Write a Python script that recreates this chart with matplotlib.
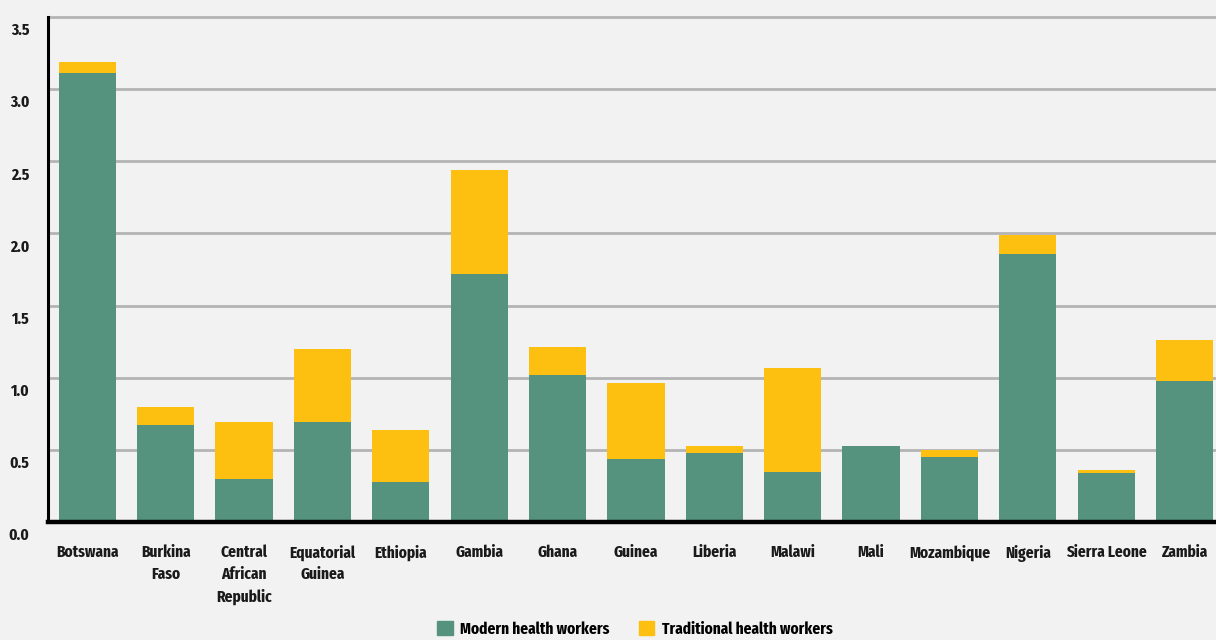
import matplotlib.pyplot as plt
import matplotlib.transforms as mtransforms
from matplotlib.patches import Patch
import numpy as np

countries = ["Botswana", "Burkina\nFaso", "Central\nAfrican\nRepublic", "Equatorial\nGuinea",
             "Ethiopia", "Gambia", "Ghana", "Guinea", "Liberia", "Malawi", "Mali",
             "Mozambique", "Nigeria", "Sierra Leone", "Zambia"]
modern = [3.11, 0.67, 0.30, 0.69, 0.28, 1.72, 1.02, 0.44, 0.48, 0.35, 0.53, 0.45, 1.86, 0.34, 0.98]
traditional = [0.08, 0.13, 0.39, 0.51, 0.36, 0.72, 0.19, 0.52, 0.05, 0.72, 0.0, 0.05, 0.13, 0.02, 0.28]
yticks = [0.0, 0.5, 1.0, 1.5, 2.0, 2.5, 3.0, 3.5]

GREEN = "#56937f"
YELLOW = "#fdc010"
BG = "#f1f2f1"
FONT = dict(family=["Fira Sans Extra Condensed", "Fira Sans Condensed", "DejaVu Sans"],
            stretch="condensed", weight="bold", size=12)

W, H = 1216, 640
fig = plt.figure(figsize=(W / 100, H / 100), dpi=100, facecolor=BG)
# axes box in pixels: left spine x=48, baseline y=522, top grid y=17
ax = fig.add_axes([48 / W, (H - 522) / H, (W - 48) / W, (522 - 17) / H])
ax.set_facecolor(BG)

x = np.arange(len(countries))
ax.bar(x, modern, width=0.73, color=GREEN, zorder=3)
ax.bar(x, traditional, width=0.73, bottom=modern, color=YELLOW, zorder=3)

ax.set_xlim(-0.5, 14.4)
ax.set_ylim(0, 3.5)
ax.set_yticks(yticks)
ax.set_yticklabels([f"{v:.1f}" for v in yticks], color="#1a1a1a", **FONT)
ax.tick_params(axis="y", length=0, pad=13.5)
# labels sit a little below their gridlines
offset = mtransforms.ScaledTranslation(0, -12 / 100, fig.dpi_scale_trans)
for lab in ax.get_yticklabels():
    lab.set_transform(lab.get_transform() + offset)

ax.set_xticks(x)
ax.set_xticklabels(countries, color="#1a1a1a", linespacing=1.45, **FONT)
ax.tick_params(axis="x", length=0, pad=16.5)

ax.grid(axis="y", color="#b4b4b4", linewidth=2, zorder=0)
ax.yaxis.get_gridlines()[-1].set_clip_on(False)
for s in ["top", "right"]:
    ax.spines[s].set_visible(False)
ax.spines["left"].set_linewidth(2.2)
ax.spines["left"].set_color("black")
ax.spines["bottom"].set_linewidth(3.2)
ax.spines["bottom"].set_color("black")
ax.spines["bottom"].set_zorder(4)

handles = [Patch(color=GREEN, label="Modern health workers"),
           Patch(color=YELLOW, label="Traditional health workers")]
fig.legend(handles=handles, loc="lower center", bbox_to_anchor=(0.522, -0.019), ncol=2,
           frameon=False, prop=FONT,
           handlelength=0.95, handleheight=0.95, handletextpad=0.45, columnspacing=1.75)

fig.savefig("out.png", dpi=100, facecolor=BG)
